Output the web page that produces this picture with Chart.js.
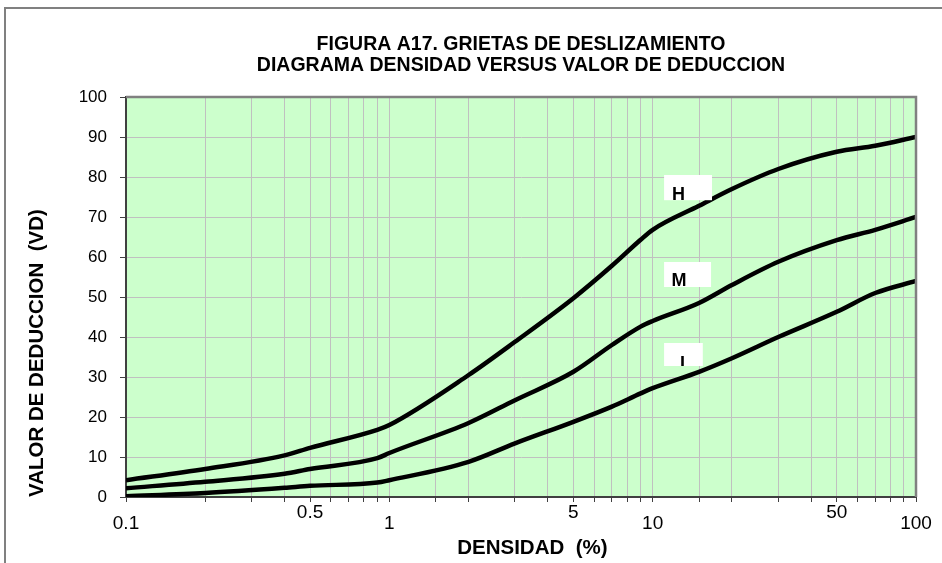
<!DOCTYPE html>
<html>
<head>
<meta charset="utf-8">
<script src="https://cdn.jsdelivr.net/npm/chart.js@4"></script>
<style>
  html, body { margin: 0; padding: 0; background: #fff; }
  #caja { width: 942px; height: 563px; }
</style>
</head>
<body>
<div id="caja"><canvas id="graficoVD"></canvas></div>
<script>
// Densidad (%) en escala logaritmica, eje X
var densidad = [0.1, 0.2, 0.4, 0.5, 0.9, 1, 2, 3, 5, 7, 9, 10, 15, 20, 30, 50, 70, 100];

// Valor de deduccion para cada nivel de severidad
var curvaH = [4.2, 7.0, 10.4, 12.3, 16.8, 18, 30.5, 38.8, 49.7, 57.8, 64.3, 66.8, 72.8, 77, 82, 86.3, 87.8, 90];
var curvaM = [2.2, 3.8, 5.8, 7.0, 9.7, 11, 18.5, 24.2, 31.3, 38, 42.6, 44, 48.5, 53, 58.8, 64.2, 66.8, 70];
var curvaL = [0.2, 1.0, 2.3, 2.8, 3.6, 4.2, 8.8, 13.4, 18.8, 22.6, 25.9, 27.2, 31.3, 34.7, 40, 46.3, 51, 54];

// etiquetas que se muestran en el eje X
var etiquetasX = [0.1, 0.5, 1, 5, 10, 50, 100];
var etiquetasAltas = [0.5, 5, 50];

var titulo = ['FIGURA A17. GRIETAS DE DESLIZAMIENTO', 'DIAGRAMA DENSIDAD VERSUS VALOR DE DEDUCCION'];

// cajas blancas con la letra de severidad (en unidades de los ejes)
var rotulos = [
  { texto: 'H', x0: 11.05, x1: 16.8, yArriba: 80.5, yAbajo: 74.2, xTexto: 11.85, base: 74.25 },
  { texto: 'M', x0: 11.05, x1: 16.66, yArriba: 58.75, yAbajo: 52.5, xTexto: 11.8, base: 52.75 },
  { texto: 'L', x0: 11.05, x1: 15.5, yArriba: 38.5, yAbajo: 32.75, xTexto: 12.7, base: 32.1 }
];

var fuente = '"Liberation Sans", Arial, sans-serif';

function puntos(valores) {
  return densidad.map(function (d, i) { return { x: d, y: valores[i] }; });
}

function serie(nombre, valores) {
  return {
    label: nombre,
    data: puntos(valores),
    borderColor: '#000',
    borderWidth: 4.5,
    pointRadius: 0,
    fill: false,
    cubicInterpolationMode: 'monotone'
  };
}

var marco = {
  id: 'marco',
  beforeDraw: function (chart) {
    var ctx = chart.ctx, a = chart.chartArea;
    ctx.save();
    ctx.fillStyle = '#fff';
    ctx.fillRect(0, 0, chart.width, chart.height);
    // marco exterior
    ctx.strokeStyle = '#808080';
    ctx.lineWidth = 2;
    ctx.beginPath();
    ctx.moveTo(5, chart.height);
    ctx.lineTo(5, 8);
    ctx.lineTo(chart.width, 8);
    ctx.stroke();
    // fondo verde
    ctx.fillStyle = '#ccffcc';
    ctx.fillRect(a.left, a.top, a.right - a.left, a.bottom - a.top);
    // titulo
    ctx.fillStyle = '#000';
    ctx.font = 'bold 19.5px ' + fuente;
    ctx.textAlign = 'center';
    ctx.textBaseline = 'middle';
    titulo.forEach(function (t, i) {
      ctx.fillText(t, (a.left + a.right) / 2, 45 + i * 21);
    });
    ctx.restore();
  },
  afterDatasetsDraw: function (chart) {
    var ctx = chart.ctx, a = chart.chartArea;
    var sx = chart.scales.x, sy = chart.scales.y;
    ctx.save();
    ctx.strokeStyle = '#808080';
    ctx.lineWidth = 2.5;
    ctx.beginPath();
    ctx.moveTo(a.left, a.top);
    ctx.lineTo(a.right, a.top);
    ctx.lineTo(a.right, a.bottom);
    ctx.stroke();

    rotulos.forEach(function (r) {
      var x0 = sx.getPixelForValue(r.x0), x1 = sx.getPixelForValue(r.x1);
      var y0 = sy.getPixelForValue(r.yArriba), y1 = sy.getPixelForValue(r.yAbajo);
      ctx.save();
      ctx.fillStyle = '#fff';
      ctx.fillRect(x0, y0, x1 - x0, y1 - y0);
      ctx.beginPath();
      ctx.rect(x0, y0, x1 - x0, y1 - y0);
      ctx.clip();
      ctx.fillStyle = '#000';
      ctx.font = 'bold 18px ' + fuente;
      ctx.textAlign = 'left';
      ctx.textBaseline = 'alphabetic';
      ctx.fillText(r.texto, sx.getPixelForValue(r.xTexto), sy.getPixelForValue(r.base));
      ctx.restore();
    });
    ctx.restore();
  }
};

var ctx = document.getElementById('graficoVD').getContext('2d');
var chart = new Chart(ctx, {
  type: 'line',
  data: {
    datasets: [
      serie('H', curvaH),
      serie('M', curvaM),
      serie('L', curvaL)
    ]
  },
  options: {
    responsive: true,
    maintainAspectRatio: false,
    animation: false,
    layout: { padding: { left: 0, right: 26, top: 97, bottom: 0 } },
    plugins: {
      legend: { display: false },
      tooltip: { enabled: false }
    },
    scales: {
      x: {
        type: 'logarithmic',
        min: 0.1,
        max: 100,
        afterFit: function (scale) { scale.height = 66; },
        grid: { color: '#c0c0c0', lineWidth: 1, tickColor: '#404040', tickLength: 5 },
        border: { display: true, color: '#404040', width: 2 },
        ticks: {
          autoSkip: false,
          maxRotation: 0,
          padding: 10,
          color: '#000',
          font: function (c) {
            var v = c.tick ? c.tick.value : 0;
            var alta = etiquetasAltas.some(function (e) { return Math.abs(e - v) < 1e-9; });
            return { family: fuente, size: 19, lineHeight: alta ? '2px' : 1.2 };
          },
          callback: function (value) {
            var ok = etiquetasX.some(function (e) { return Math.abs(e - value) < 1e-9; });
            return ok ? String(value) : '';
          }
        },
        title: {
          display: true,
          text: '    DENSIDAD  (%)',
          color: '#000',
          font: { family: fuente, size: 20.5, weight: 'bold' },
          padding: { top: 0, bottom: 2 }
        }
      },
      y: {
        min: 0,
        max: 100,
        afterFit: function (scale) { scale.width = 126; },
        grid: { color: '#c0c0c0', lineWidth: 1, tickColor: '#404040', tickLength: 6 },
        border: { display: true, color: '#404040', width: 2 },
        ticks: {
          stepSize: 10,
          padding: 13,
          color: '#000',
          font: { family: fuente, size: 17 }
        },
        title: {
          display: true,
          text: 'VALOR DE DEDUCCION  (VD)',
          align: 'start',
          color: '#000',
          font: { family: fuente, size: 20.5, weight: 'bold' },
          padding: { top: 25, bottom: 0 }
        }
      }
    }
  },
  plugins: [marco]
});
</script>
</body>
</html>
